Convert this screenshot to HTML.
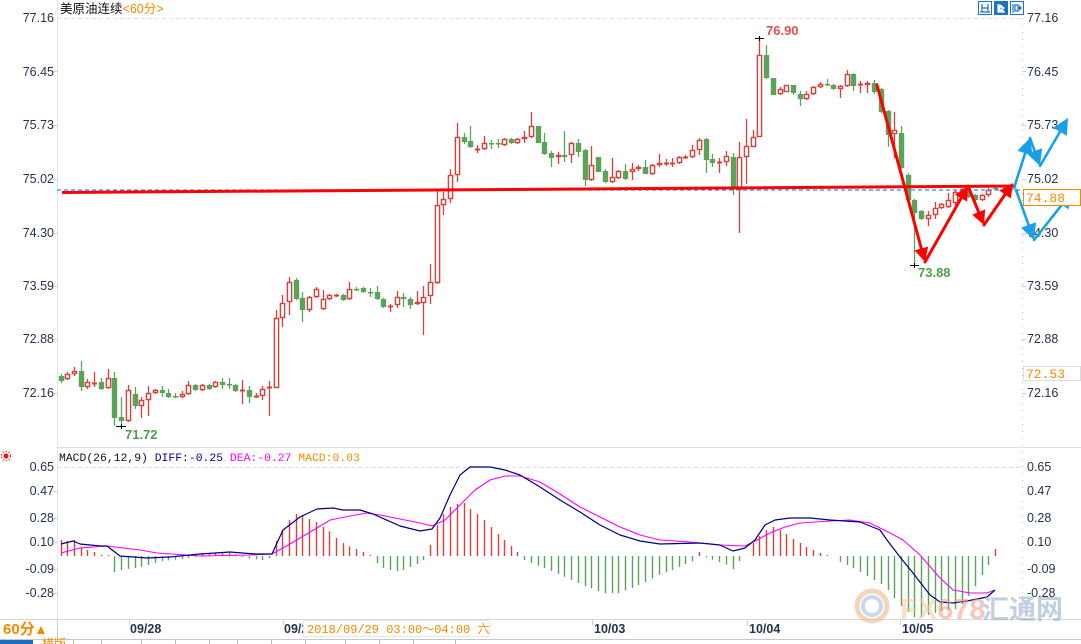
<!DOCTYPE html>
<html><head><meta charset="utf-8">
<style>
html,body{margin:0;padding:0;background:#fff;width:1081px;height:644px;overflow:hidden}
svg{display:block}
text{font-family:"Liberation Sans","Noto Sans CJK SC",sans-serif}
.ax{font-size:12.5px;fill:#24324f}
.dt{font-size:12.5px;fill:#24324f;font-weight:bold}
.mono{font-family:"Liberation Mono","Noto Sans CJK SC",monospace}
</style></head>
<body>
<svg id="s" width="1081" height="644" viewBox="0 0 1081 644" xmlns="http://www.w3.org/2000/svg">
<rect x="0" y="0" width="1081" height="644" fill="#fff"/>
<!-- frame lines -->
<line x1="57.5" y1="0" x2="57.5" y2="639" stroke="#e2e6eb" stroke-width="1"/>
<line x1="57" y1="18.5" x2="1020" y2="18.5" stroke="#dcdcdc" stroke-dasharray="4,3"/>
<line x1="1022.5" y1="18" x2="1022.5" y2="619" stroke="#b8b8b8" stroke-dasharray="1,6"/>
<line x1="57" y1="447.5" x2="1081" y2="447.5" stroke="#dedede"/>
<line x1="57" y1="467.5" x2="1020" y2="467.5" stroke="#dcdcdc" stroke-dasharray="4,3"/>
<line x1="0" y1="619.5" x2="1081" y2="619.5" stroke="#d8d8d8"/>
<line x1="0" y1="639.5" x2="1081" y2="639.5" stroke="#c8c8c8"/>

<!-- title -->
<text x="60" y="13" font-size="12.5" fill="#111">美原油连续<tspan fill="#f28a00">&lt;60分&gt;</tspan></text>

<!-- top-right icons -->
<rect x="978.5" y="1.5" width="13" height="13" fill="#fff" stroke="#1a72c4"/>
<path d="M982 4v8M988 4v8M982 8h6M980 12h10" stroke="#1a72c4" stroke-width="1.2" fill="none"/>
<rect x="994.5" y="1.5" width="13" height="13" fill="#1a72c4" stroke="#1a72c4"/>
<path d="M998 4v8h7M1000 5l4 3-4 3z" stroke="#fff" stroke-width="1.2" fill="#fff"/>
<rect x="1010.5" y="1.5" width="13" height="13" fill="#fff" stroke="#1a72c4"/>
<path d="M1013 4v9M1015 5h3v6h-3z M1018 8h3" stroke="#1a72c4" stroke-width="1.2" fill="none"/>
<path d="M1019 5l3 3-3 3z" fill="#1a72c4"/>

<!-- left axis labels main -->
<g class="ax" text-anchor="end">
<text x="54" y="22">77.16</text>
<text x="54" y="76">76.45</text>
<text x="54" y="129">75.73</text>
<text x="54" y="183">75.02</text>
<text x="54" y="237">74.30</text>
<text x="54" y="290">73.59</text>
<text x="54" y="343">72.88</text>
<text x="54" y="397">72.16</text>
<text x="54" y="471">0.65</text>
<text x="54" y="495">0.47</text>
<text x="54" y="522">0.28</text>
<text x="54" y="546">0.10</text>
<text x="54" y="573">-0.09</text>
<text x="54" y="597">-0.28</text>
</g>
<g stroke="#c8ccd2">
<line x1="53" y1="71.5" x2="57" y2="71.5"/><line x1="53" y1="125.5" x2="57" y2="125.5"/>
<line x1="53" y1="179.5" x2="57" y2="179.5"/><line x1="53" y1="233.5" x2="57" y2="233.5"/>
<line x1="53" y1="286.5" x2="57" y2="286.5"/><line x1="53" y1="339.5" x2="57" y2="339.5"/>
<line x1="53" y1="393.5" x2="57" y2="393.5"/>
<line x1="53" y1="491.5" x2="57" y2="491.5"/><line x1="53" y1="518.5" x2="57" y2="518.5"/>
<line x1="53" y1="542.5" x2="57" y2="542.5"/><line x1="53" y1="569.5" x2="57" y2="569.5"/>
<line x1="53" y1="593.5" x2="57" y2="593.5"/>
</g>
<!-- right axis labels -->
<g class="ax">
<text x="1027" y="22">77.16</text>
<text x="1027" y="76">76.45</text>
<text x="1027" y="129">75.73</text>
<text x="1027" y="183">75.02</text>
<text x="1027" y="237">74.30</text>
<text x="1027" y="290">73.59</text>
<text x="1027" y="343">72.88</text>
<text x="1027" y="397">72.16</text>
<text x="1027" y="471">0.65</text>
<text x="1027" y="495">0.47</text>
<text x="1027" y="522">0.28</text>
<text x="1027" y="546">0.10</text>
<text x="1027" y="573">-0.09</text>
<text x="1027" y="597">-0.28</text>
</g>
<g stroke="#c8ccd2">
<line x1="1022" y1="71.5" x2="1026" y2="71.5"/><line x1="1022" y1="125.5" x2="1026" y2="125.5"/>
<line x1="1022" y1="179.5" x2="1026" y2="179.5"/><line x1="1022" y1="233.5" x2="1026" y2="233.5"/>
<line x1="1022" y1="286.5" x2="1026" y2="286.5"/><line x1="1022" y1="339.5" x2="1026" y2="339.5"/>
<line x1="1022" y1="393.5" x2="1026" y2="393.5"/>
</g>

<!-- MACD title -->
<g>
<circle cx="6" cy="456" r="2.6" fill="#e02020"/>
<circle cx="6" cy="456" r="4.6" fill="none" stroke="#e02020" stroke-width="1" stroke-dasharray="1.5,1.5"/>
</g>
<text x="59" y="461" class="mono" font-size="11.4" fill="#111">MACD(26,12,9) <tspan fill="#00008b">DIFF:-0.25</tspan> <tspan fill="#ff00ff">DEA:-0.27</tspan> <tspan fill="#f28a00">MACD:0.03</tspan></text>

<g id="cd"></g>

<!-- extreme labels -->
<text x="766" y="35" font-size="13" font-weight="bold" fill="#e05050">76.90</text>
<text x="918" y="277" font-size="13" font-weight="bold" fill="#4e9e4e">73.88</text>
<text x="125" y="439" font-size="13" font-weight="bold" fill="#4e9e4e">71.72</text>
<g stroke="#000" stroke-width="1">
<line x1="755" y1="38.5" x2="764" y2="38.5"/><line x1="759.5" y1="36" x2="759.5" y2="41"/>
<line x1="910" y1="265.5" x2="919" y2="265.5"/><line x1="914.5" y1="263" x2="914.5" y2="268"/>
<line x1="116" y1="426.5" x2="126" y2="426.5"/><line x1="121.5" y1="424" x2="121.5" y2="429"/>
</g>

<!-- price boxes -->
<rect x="1023.5" y="189.5" width="57" height="16" fill="#fff" stroke="#f28a00"/>
<text x="1026" y="202" class="mono" font-size="13" fill="#f28a00">74.88</text>
<rect x="1023.5" y="366.5" width="57" height="14" fill="#fff" stroke="#dcdcdc"/>
<text x="1026" y="378" class="mono" font-size="13" fill="#f28a00">72.53</text>

<!-- watermark -->
<g opacity="0.55">
<circle cx="872" cy="606" r="15" fill="none" stroke="#e8b48c" stroke-width="5"/>
<circle cx="872" cy="606" r="9" fill="none" stroke="#9fb8d8" stroke-width="4"/>
<text x="900" y="619" font-size="29" font-weight="bold" fill="#f6c89a">FX<tspan fill="#f29a86">678</tspan></text>
<text x="982" y="619" font-size="27" font-weight="bold" fill="#8fa8cc">汇通网</text>
</g>

<!-- date axis -->
<g stroke="#cfcfcf">
<line x1="129.5" y1="619" x2="129.5" y2="625"/>
<line x1="283.5" y1="619" x2="283.5" y2="625"/>
<line x1="592.5" y1="619" x2="592.5" y2="625"/>
<line x1="747.5" y1="619" x2="747.5" y2="625"/>
<line x1="900.5" y1="619" x2="900.5" y2="625"/>
</g>
<text class="dt" x="130" y="633">09/28</text>
<text class="dt" x="284" y="633">09/2</text>
<text class="dt" x="594" y="633">10/03</text>
<text class="dt" x="749" y="633">10/04</text>
<text class="dt" x="902" y="633">10/05</text>
<rect x="303.5" y="620.5" width="186" height="16" fill="#fff" stroke="#e4e8ee"/>
<text x="307" y="633" class="mono" font-size="12" fill="#f28a00">2018/09/29 03:00～04:00 <tspan font-family="Noto Sans CJK SC, sans-serif">六</tspan></text>

<!-- left bottom -->
<text x="3" y="634" font-size="15" font-weight="bold" fill="#f28a00">60分</text>
<path d="M37 634 L41 626 L45 634 Z" fill="#f28a00"/>
<line x1="57.5" y1="619" x2="57.5" y2="639" stroke="#ccc"/>

<!-- bottom tabs -->
<rect x="0" y="640" width="33" height="4" fill="#1c6fc0"/>
<rect x="36" y="640" width="30" height="4" fill="#fff"/>
<text x="42" y="648" font-size="12" fill="#f28a00">横版</text>
<g stroke="#bbb">
<line x1="73.5" y1="640" x2="73.5" y2="644"/><line x1="101.5" y1="640" x2="101.5" y2="644"/>
<line x1="141.5" y1="640" x2="141.5" y2="644"/><line x1="175.5" y1="640" x2="175.5" y2="644"/>
<line x1="209.5" y1="640" x2="209.5" y2="644"/><line x1="237.5" y1="640" x2="237.5" y2="644"/>
<line x1="271.5" y1="640" x2="271.5" y2="644"/><line x1="305.5" y1="640" x2="305.5" y2="644"/>
<line x1="345.5" y1="640" x2="345.5" y2="644"/><line x1="379.5" y1="640" x2="379.5" y2="644"/>
<line x1="413.5" y1="640" x2="413.5" y2="644"/><line x1="455.5" y1="640" x2="455.5" y2="644"/>
</g>
</svg>
<script>
(function(){
var NS="http://www.w3.org/2000/svg";
var g=document.getElementById("cd");
var RED="#d8403c",GRN="#5ba35a";
function el(n,a){var e=document.createElementNS(NS,n);for(var k in a)e.setAttribute(k,a[k]);g.appendChild(e);return e;}
var C=[
[61,'g',376,381,374,383],[67,'r',374,379,372,380],[74,'r',371,374,367,376],[81,'g',371,387,361,391],
[87,'r',382,387,379,389],[94,'r',383,384,372,387],[101,'g',382,389,378,390],[108,'r',378,388,369,389],
[114,'g',378,418,372,426],[121,'g',417,421,397,426],[128,'r',390,421,385,422],[135,'g',394,406,387,409],
[141,'r',400,406,397,418],[148,'r',393,400,386,416],[155,'r',390,393,389,394],[162,'g',390,393,386,397],
[168,'g',393,397,389,398],[175,'g',396,397,393,398],[182,'r',394,397,391,398],[188,'r',385,394,381,395],
[195,'g',385,390,384,391],[202,'r',385,390,384,391],[209,'g',385,389,384,390],[215,'r',382,387,381,388],
[222,'g',382,385,378,389],[229,'g',384,385,378,389],[235,'g',385,391,384,392],[242,'r',390,391,380,404],
[249,'g',390,397,386,403],[256,'r',396,397,393,398],[262,'r',389,396,386,400],[269,'r',387,388,381,416],
[276,'r',318,388,310,388],[282,'r',303,318,295,327],[289,'r',282,302,277,315],[296,'g',280,299,278,300],
[302,'g',298,310,292,322],[309,'r',297,310,296,312],[316,'r',289,297,287,298],[323,'r',299,309,290,310],
[329,'r',295,299,294,300],[336,'r',295,296,294,297],[343,'g',295,300,294,301],[349,'r',289,299,282,300],
[356,'g',289,290,287,291],[363,'g',288,292,287,293],[370,'g',292,293,288,297],[377,'g',292,299,286,300],
[383,'g',299,307,298,308],[390,'r',306,307,304,312],[397,'r',297,305,291,308],[403,'g',297,299,293,307],
[410,'g',299,305,297,309],[417,'r',302,304,291,305],[423,'r',297,303,286,335],[430,'r',282,296,264,304],
[437,'r',205,283,190,284],[443,'r',199,205,192,215],[450,'r',175,199,169,203],[457,'r',137,175,123,182],
[464,'g',137,142,133,144],[470,'g',141,147,126,148],[477,'r',149,150,145,153],[484,'r',143,149,136,150],
[491,'g',143,144,140,149],[498,'g',143,144,139,148],[504,'r',139,145,138,146],[511,'g',139,143,138,144],
[517,'r',139,143,138,144],[524,'r',137,139,131,143],[531,'r',126,137,112,138],[538,'g',126,143,126,143],
[544,'g',142,154,133,155],[551,'g',153,158,151,167],[558,'r',155,157,152,164],[564,'g',155,157,131,162],
[571,'r',143,155,142,163],[578,'g',143,152,139,157],[585,'g',150,180,149,186],[591,'r',165,180,146,181],
[598,'g',157,172,157,172],[605,'g',171,182,169,183],[612,'r',177,182,158,183],[618,'r',171,178,170,179],
[625,'g',171,179,164,180],[632,'r',169,172,163,180],[638,'r',167,169,165,171],[645,'g',167,174,160,174],
[652,'r',165,174,164,175],[659,'r',163,165,154,167],[666,'r',163,164,159,166],[672,'r',163,164,158,167],
[679,'r',157,163,156,164],[685,'r',157,158,155,159],[692,'r',150,157,145,158],[699,'r',140,150,138,155],
[706,'g',139,160,138,173],[712,'g',159,163,154,167],[719,'r',162,163,158,173],[726,'r',156,162,151,166],
[733,'g',157,188,153,195],[739,'r',157,190,142,233],[746,'r',146,157,119,184],[753,'r',137,147,130,147],
[759,'r',55,137,37,137],[766,'g',55,78,45,79],[773,'g',78,95,78,95],[780,'r',89,94,87,95],
[786,'r',85,92,85,92],[793,'g',85,93,85,95],[800,'g',94,99,91,106],[806,'r',94,99,91,100],
[813,'r',87,94,86,95],[820,'r',84,87,82,88],[827,'g',84,85,79,86],[833,'g',85,89,84,90],
[840,'r',86,89,85,98],[847,'r',74,86,70,87],[853,'g',74,86,73,91],[860,'r',84,85,81,93],
[867,'r',83,85,81,93],[874,'g',83,92,80,94],[881,'g',89,112,88,113],[888,'g',111,135,110,147],
[894,'r',130,134,112,158],[901,'g',133,168,126,169],[908,'g',175,200,173,201],[914,'g',200,213,199,265],
[921,'g',211,219,210,220],[928,'r',215,219,211,226],[935,'r',208,215,202,219],[941,'r',204,208,203,209],
[948,'r',200,207,193,208],[955,'r',192,203,190,205],[962,'r',189,195,188,196],[968,'g',192,197,190,198],
[975,'g',195,200,194,203],[982,'r',195,200,194,201],[988,'r',190,195,188,197],[995,'g',188,189,186,190]
];
var DIFF=[[61,544],[73,541],[80,544],[100,546],[107,546],[120,556],[147,558],[170,557],[200,554],[230,552],[255,554],[272,554],[283,530],[300,517],[317,509],[333,508],[343,510],[360,510],[373,514],[400,526],[420,531],[432,529],[440,518],[450,495],[460,475],[470,467],[490,467],[505,470],[520,475],[540,487],[560,500],[580,512],[600,525],[620,535],[640,541],[660,544],[700,543],[720,545],[733,551],[745,548],[755,540],[765,525],[775,520],[790,518],[810,518],[830,520],[860,522],[880,530],[887,540],[900,557],[913,573],[930,595],[940,602],[953,603],[967,601],[987,597],[995,590]];
var DEA=[[61,553],[80,548],[107,546],[140,550],[157,553],[200,556],[250,555],[272,554],[283,548],[300,538],[317,528],[330,520],[350,516],[367,513],[380,515],[400,519],[420,523],[432,526],[445,520],[460,505],[475,490],[490,480],[505,476],[520,476],[540,482],[560,494],[580,507],[600,517],[620,527],[640,535],[660,540],[690,542],[720,545],[745,546],[757,540],[770,533],[785,527],[800,523],[830,521],[850,520],[870,523],[890,533],[903,540],[920,555],[940,578],[953,590],[970,593],[987,593],[995,590]];
var H=[[61,540],[67,541],[74,540],[81,547],[87,550],[94,552],[101,555],[108,555],[111,556],[114,572],[121,570],[135,568],[148,565],[162,561],[182,559],[195,557],[198,556],[202,553],[232,553],[240,556],[244,558],[262,560],[270,558],[273,556],[276,541],[282,530],[289,520],[296,514],[302,515],[309,519],[316,522],[323,527],[330,532],[336,538],[343,543],[350,547],[356,549],[363,552],[370,555],[373,556],[377,563],[383,568],[390,570],[397,571],[403,570],[410,567],[417,564],[423,560],[427,556],[430,545],[437,525],[443,514],[450,507],[457,504],[464,503],[470,509],[477,514],[484,520],[491,527],[498,534],[504,540],[511,546],[517,552],[521,556],[524,560],[531,563],[544,568],[558,574],[571,580],[585,586],[598,591],[605,593],[618,593],[632,588],[645,582],[659,575],[672,570],[685,564],[693,561],[697,556],[700,550],[703,556],[707,558],[713,560],[727,565],[733,569],[739,561],[745,557],[747,556],[749,548],[753,543],[759,536],[766,530],[773,527],[780,530],[786,534],[793,539],[800,543],[806,547],[813,550],[820,553],[827,555],[833,556],[836,560],[847,565],[860,572],[874,580],[881,584],[888,590],[894,598],[901,606],[908,612],[914,617],[921,617],[928,615],[941,611],[948,610],[955,609],[962,604],[968,596],[975,586],[982,575],[988,565],[991,556],[995,549]];
function itp(P,x){if(x<=P[0][0])return P[0][1];for(var i=1;i<P.length;i++){if(x<=P[i][0]){var a=P[i-1],b=P[i];return a[1]+(b[1]-a[1])*(x-a[0])/(b[0]-a[0]);}}return P[P.length-1][1];}
var Z=556;
for(var i=0;i<C.length;i++){var x=C[i][0];var y2=itp(H,x);var h=Z-y2;if(Math.abs(h)<0.8)continue;
 if(y2>618)y2=618;
 el('line',{x1:x+0.5,y1:Z,x2:x+0.5,y2:y2,stroke:h>0?RED:GRN,'stroke-width':1.4});}
function pl(P,c,w){el('polyline',{points:P.map(function(p){return p.join(',');}).join(' '),fill:'none',stroke:c,'stroke-width':w,'stroke-linejoin':'round'});}
pl(DEA,'#ff00ff',1.1);
pl(DIFF,'#000080',1.2);
for(var i=0;i<C.length;i++){var c=C[i],x=c[0],col=c[1]=='r'?RED:GRN;
 el('line',{x1:x+0.5,y1:c[4],x2:x+0.5,y2:c[5],stroke:col,'stroke-width':1.3});
 var bh=Math.max(c[3]-c[2],1);
 if(c[1]=='r'){ if(bh<=1.5){el('rect',{x:x-2,y:c[2]-0.5,width:5,height:2,fill:col});}
   else el('rect',{x:x-1.6,y:c[2]+0.5,width:4.2,height:bh-1,fill:'#fff',stroke:col,'stroke-width':1.4});}
 else { el('rect',{x:x-2.2,y:c[2],width:5.4,height:Math.max(bh,1.5),fill:col}); }
}
el('line',{x1:57,y1:190,x2:1022,y2:190,stroke:'#1e8fff','stroke-width':1.3,'stroke-dasharray':'4,3'});
el('line',{x1:62,y1:192.5,x2:1016,y2:186,stroke:'#ff0000','stroke-width':3});
function arrow(x1,y1,x2,y2,col,w,hl,hw){var dx=x2-x1,dy=y2-y1,L=Math.sqrt(dx*dx+dy*dy),ux=dx/L,uy=dy/L;
 var bx=x2-ux*hl,by=y2-uy*hl;
 el('line',{x1:x1,y1:y1,x2:bx+ux*2,y2:by+uy*2,stroke:col,'stroke-width':w,'stroke-linecap':'round'});
 el('polygon',{points:[x2,y2,bx-uy*hw,by+ux*hw,bx+uy*hw,by-ux*hw].join(','),fill:col});}
var R='#ff0000';
arrow(877,85,925,262,R,3,14,7);
arrow(925,262,968,186,R,3,14,7);
arrow(968,186,984,225,R,3,14,7);
arrow(984,225,1013,183,R,3,14,7);
var B='#1aa0e6';
arrow(1014,188,1030,138,B,2.6,16,8);
arrow(1030,138,1040,166,B,2.6,16,8);
arrow(1040,166,1068,118,B,2.6,16,8);
arrow(1016,190,1034,240,B,2.6,16,8);
arrow(1034,240,1072,192,B,2.6,16,8);
})();
</script>
</body></html>
